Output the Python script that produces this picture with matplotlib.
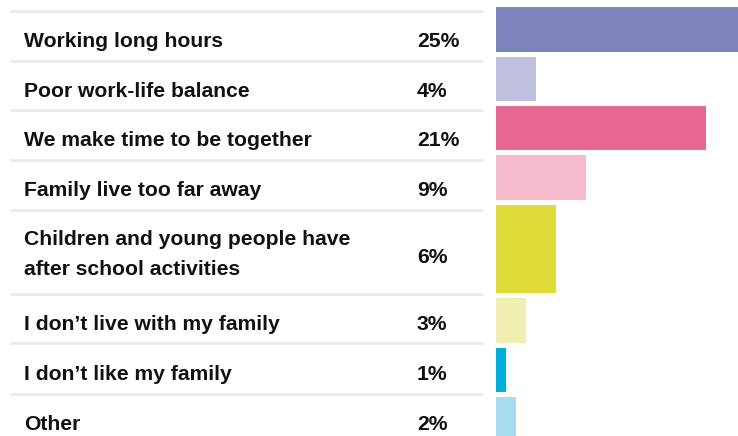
import matplotlib
matplotlib.use("Agg")
import matplotlib.pyplot as plt
import numpy as np

categories = [
    "Working long hours",
    "Poor work-life balance",
    "We make time to be together",
    "Family live too far away",
    "Children and young people have\nafter school activities",
    "I don\u2019t live with my family",
    "I don\u2019t like my family",
    "Other",
]
values = [25, 4, 21, 9, 6, 3, 1, 2]
value_labels = ["25%", "4%", "21%", "9%", "6%", "3%", "1%", "2%"]
colors = ["#7d84bb", "#bfc1df", "#e96793", "#f5bbcd", "#dfdc3a",
          "#f0eeb0", "#00aed8", "#a8dbee"]

W, H = 738, 436
fig = plt.figure(figsize=(W / 100, H / 100), dpi=100)
ax = fig.add_axes([0, 0, 1, 1])
ax.set_xlim(0, W)
ax.set_ylim(H, 0)
ax.axis("off")

fam = ["Liberation Sans Narrow", "Liberation Sans", "DejaVu Sans"]
fs = 15.2
text_color = "#111111"

# layout of table rows (pixels)
row_h = [50, 49, 50, 50, 84, 49, 51, 50]
seps = 11 + np.concatenate([[0], np.cumsum(row_h)])
centers = (seps[:-1] + seps[1:]) / 2
for y in seps[:-1]:
    ax.plot([10, 483], [y, y], color="#ececec", lw=2.2, solid_capstyle="butt")

for cat, lab, c in zip(categories, value_labels, centers):
    n = cat.count("\n") + 1
    base = c + 11 + (n - 1) * 12
    ax.text(24, base, cat, fontsize=fs, fontweight="bold", family=fam,
            color=text_color, va="baseline", ha="left", linespacing=1.74)
    ax.text(417, c + 11, lab, fontsize=fs, fontweight="bold", family=fam,
            color=text_color, va="baseline", ha="left")

# bars
bax = fig.add_axes([496 / W, 0, 1 - 496 / W, 1])
bax.set_xlim(0, 24.2)
bax.set_ylim(H, 0)
bax.axis("off")
slot = np.array([50, 49, 49, 50, 93, 50, 49, 49])
tops = 7 + np.concatenate([[0], np.cumsum(slot)[:-1]])
heights = slot - 5
bax.barh(tops + heights / 2, values, height=heights, color=colors, left=0)

fig.savefig("out.png", dpi=100)
